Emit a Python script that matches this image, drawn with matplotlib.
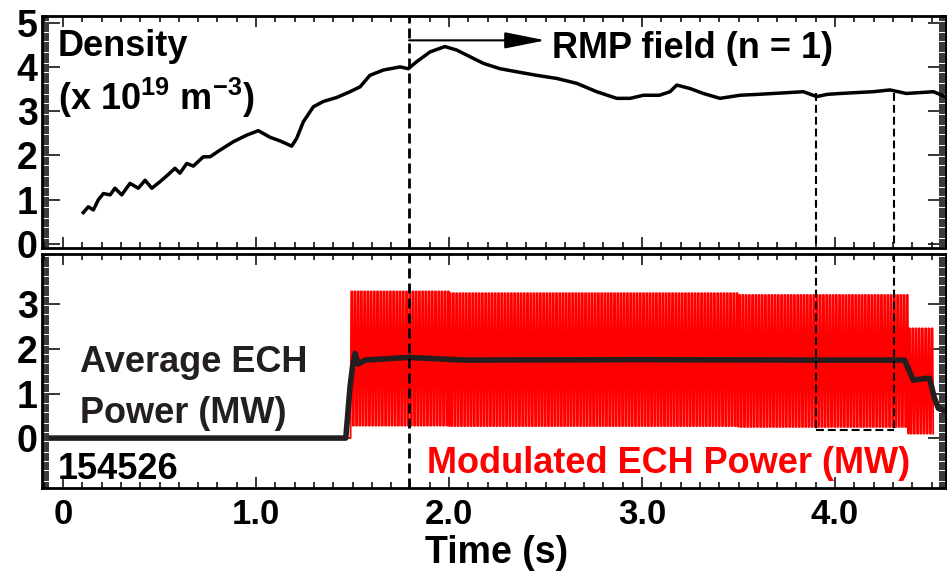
import numpy as np
import matplotlib
matplotlib.use('Agg')
import matplotlib.pyplot as plt
from matplotlib.ticker import MultipleLocator, FixedLocator, FixedFormatter

plt.rcParams['font.family'] = ['Liberation Sans', 'DejaVu Sans']
plt.rcParams['font.weight'] = 'bold'
plt.rcParams['mathtext.fontset'] = 'custom'
plt.rcParams['mathtext.rm'] = 'Liberation Sans:bold'
plt.rcParams['mathtext.it'] = 'Liberation Sans:bold'
plt.rcParams['mathtext.bf'] = 'Liberation Sans:bold'
plt.rcParams['mathtext.default'] = 'regular'

# ---------------- data ----------------
# line-averaged density (x 1e19 m^-3)
dens_t = [0.105, 0.131, 0.157, 0.183, 0.209, 0.244, 0.269, 0.304, 0.347, 0.390,
          0.425, 0.460, 0.503, 0.540, 0.580, 0.606, 0.641, 0.675, 0.727, 0.762,
          0.813, 0.882, 0.952, 1.012, 1.073, 1.124, 1.185, 1.211, 1.245, 1.297,
          1.349, 1.418, 1.487, 1.539, 1.590, 1.660, 1.746, 1.789, 1.833, 1.902,
          1.979, 2.040, 2.109, 2.178, 2.264, 2.351, 2.454, 2.558, 2.661, 2.765,
          2.869, 2.938, 3.007, 3.090, 3.145, 3.180, 3.250, 3.318, 3.404, 3.508,
          3.600, 3.680, 3.760, 3.836, 3.905, 3.960, 4.026, 4.110, 4.198, 4.285,
          4.370, 4.440, 4.510, 4.570]
dens_n = [0.71, 0.84, 0.77, 1.00, 1.14, 1.11, 1.26, 1.11, 1.37, 1.26,
          1.44, 1.26, 1.41, 1.55, 1.71, 1.60, 1.82, 1.76, 1.97, 1.97,
          2.12, 2.31, 2.46, 2.56, 2.41, 2.33, 2.21, 2.39, 2.76, 3.10,
          3.22, 3.31, 3.44, 3.55, 3.81, 3.93, 4.00, 3.96, 4.12, 4.34,
          4.46, 4.38, 4.23, 4.08, 3.96, 3.89, 3.81, 3.74, 3.63, 3.44,
          3.29, 3.29, 3.36, 3.36, 3.44, 3.59, 3.51, 3.40, 3.29, 3.36,
          3.38, 3.40, 3.42, 3.44, 3.33, 3.38, 3.40, 3.42, 3.44, 3.48,
          3.40, 3.42, 3.44, 3.33]

# average ECH power (MW)
avg_t = [-0.06, 1.465, 1.487, 1.500, 1.513, 1.530, 1.565, 1.790, 2.080, 3.000,
         3.900, 4.360, 4.406, 4.475, 4.490, 4.513, 4.535, 4.580]
avg_p = [0.0, 0.0, 1.15, 1.60, 1.90, 1.66, 1.75, 1.81, 1.75, 1.76,
         1.75, 1.75, 1.30, 1.34, 1.34, 0.93, 0.67, 0.59]

# modulated ECH power segments (MW)
mod_start = [1.490, 2.000, 3.500, 4.380]
mod_end = [2.000, 3.500, 4.380, 4.505]
mod_high = [3.29, 3.25, 3.21, 2.46]
mod_low = [0.28, 0.27, 0.25, 0.10]
mod_period = 0.0167

rmp_time = 1.793
box_t = [3.90, 4.306]
box_top_dens = 3.40
box_bottom_ech = 0.18

xtick_vals = [0, 1, 2, 3, 4]
xtick_labels = ['0', '1.0', '2.0', '3.0', '4.0']
ytick_top = [0, 1, 2, 3, 4, 5]
ytick_bot = [0, 1, 2, 3]

# ---------------- figure ----------------
W, H = 947, 577
fig = plt.figure(figsize=(W / 100, H / 100), dpi=100)

def px(x, y):
    return x / W, 1 - y / H

ax1 = fig.add_axes([42 / W, 1 - 248 / H, 904 / W, 232 / H])
ax2 = fig.add_axes([42 / W, 1 - 488 / H, 904 / W, 234 / H])

for ax in (ax1, ax2):
    ax.set_xlim(-0.109, 4.575)
    for s in ax.spines.values():
        s.set_linewidth(2.0)
    ax.xaxis.set_major_locator(FixedLocator(xtick_vals))
    ax.xaxis.set_minor_locator(MultipleLocator(0.1))
    ax.yaxis.set_minor_locator(MultipleLocator(0.05))
    ax.tick_params(which='both', direction='in', top=True, right=True, width=1.1)
    ax.tick_params(axis='x', which='major', length=8)
    ax.tick_params(axis='x', which='minor', length=4)
    ax.tick_params(axis='y', which='major', length=13, pad=3, labelsize=27)
    ax.tick_params(axis='y', which='minor', length=5)

ax1.set_ylim(-0.09, 5.15)
ax1.yaxis.set_major_locator(FixedLocator(ytick_top))
ax1.set_yticklabels([str(v) for v in ytick_top])
ax1.tick_params(axis='x', labelbottom=False)

ax2.set_ylim(-1.12, 4.13)
ax2.yaxis.set_major_locator(FixedLocator(ytick_bot))
ax2.set_yticklabels([str(v) for v in ytick_bot])
ax2.xaxis.set_major_formatter(FixedFormatter(xtick_labels))
ax2.tick_params(axis='x', which='major', labelsize=25, pad=7)

# density
ax1.plot(dens_t, dens_n, color='black', lw=2.5, solid_joinstyle='round')

# modulated ECH (square wave built from segment parameters)
mt = [avg_t[0], mod_start[0]]
mp = [0.0, 0.0]
for s, e, hi, lo in zip(mod_start, mod_end, mod_high, mod_low):
    for t0 in np.arange(s, e, mod_period):
        p = mod_period
        mt += [t0, t0 + 0.2 * p, t0 + 0.5 * p, t0 + 0.7 * p]
        mp += [lo, hi, hi, lo]
ax2.plot(mt, mp, color='#ff0000', lw=1.35)

# average ECH
ax2.plot(avg_t, avg_p, color='#231f20', lw=4, solid_joinstyle='round')

# RMP dashed line
dash_kw = dict(color='black', lw=2, dashes=(3.6, 1.8))
ax1.axvline(rmp_time, **dash_kw)
ax2.axvline(rmp_time, **dash_kw)

# dashed box
box_kw = dict(color='black', lw=1.5, dashes=(3.8, 1.9))
for bt in box_t:
    ax1.plot([bt, bt], [box_top_dens, -0.09], **box_kw)
    ax2.plot([bt, bt], [4.13, box_bottom_ech], **box_kw)
ax2.plot(box_t, [box_bottom_ech, box_bottom_ech], **box_kw)

# arrow
ax1.annotate('', xy=(2.50, 4.60), xytext=(rmp_time, 4.60),
             arrowprops=dict(arrowstyle='-|>,head_length=0.9,head_width=0.18',
                             color='black', lw=1.5,
                             mutation_scale=28, shrinkA=0, shrinkB=0))

# texts
fs = 26
fig.text(*px(58, 56), 'Density', fontsize=fs, fontweight='bold', va='baseline')
fig.text(*px(58, 110), r'(x 10$^{19}$ m$^{-3}$)', fontsize=fs, fontweight='bold', va='baseline')
fig.text(*px(552, 58), 'RMP field (n = 1)', fontsize=fs, fontweight='bold', va='baseline')
fig.text(*px(80, 372), 'Average ECH', fontsize=fs, fontweight='bold', va='baseline', color='#231f20')
fig.text(*px(80, 423), 'Power (MW)', fontsize=fs, fontweight='bold', va='baseline', color='#231f20')
fig.text(*px(58, 479), '154526', fontsize=fs, fontweight='bold', va='baseline')
fig.text(*px(427, 473), 'Modulated ECH Power (MW)', fontsize=fs, fontweight='bold',
         va='baseline', color='#ff0000')
fig.text(*px(497, 553), 'Time (s)', fontsize=27, fontweight='bold', ha='center', va='center')

fig.savefig('out.png', dpi=100)
